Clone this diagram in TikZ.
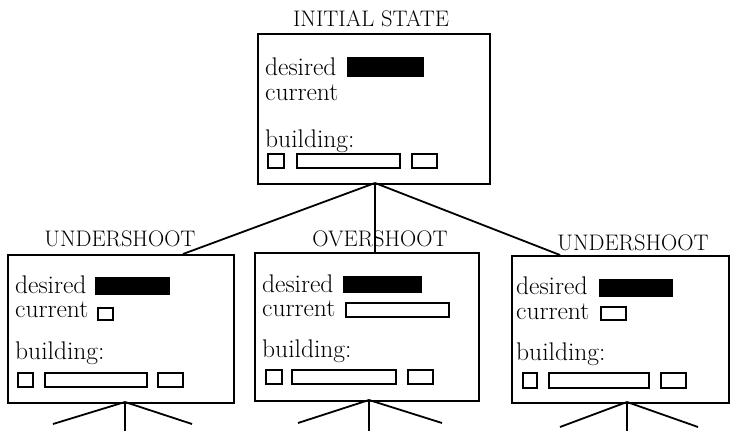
\documentclass[tikz,border=0pt]{standalone}
\begin{document}
\begin{tikzpicture}[x=1pt,y=-1pt,
  panel/.style={draw, line width=1.8pt, inner sep=0pt, anchor=north west},
  lbl/.style={font=\fontsize{22.5}{22.5}\selectfont, inner sep=0pt, anchor=base},
  txt/.style={font=\fontsize{25.5}{25.5}\selectfont, inner sep=0pt, anchor=base west},
  bar/.style={fill=black},
  slot/.style={draw, line width=1.4pt},
  link/.style={line width=1.8pt}]
\useasboundingbox (0,0) rectangle (730,431);

% ---- initial state ----
\node[lbl] (tlab) at (371,27) {INITIAL STATE};
\node[panel, minimum width=232pt, minimum height=150pt] (top) at (257,33) {};
\node[txt] (tdes) at (265,75) {desired};
\fill[bar] (347,57) rectangle (424,77);
\node[txt] (tcur) at (265,100) {current};
\node[txt] (tbld) at (265,147) {building:};
\draw[slot] (268,154) rectangle (284,168);
\draw[slot] (297,154) rectangle (400,168);
\draw[slot] (412,154) rectangle (437,168);

% ---- left child: undershoot ----
\node[lbl] (llab) at (120,246) {UNDERSHOOT};
\node[panel, minimum width=226pt, minimum height=148pt] (left) at (7,254) {};
\node[txt] (ldes) at (15,293) {desired};
\fill[bar] (95,277) rectangle (170,295);
\node[txt] (lcur) at (15,317) {current};
\draw[slot] (98,308) rectangle (113,320);
\node[txt] (lbld) at (15,359) {building:};
\draw[slot] (18,373) rectangle (33,387);
\draw[slot] (45,373) rectangle (147,387);
\draw[slot] (158,373) rectangle (183,387);

% ---- middle child: overshoot ----
\node[lbl] (mlab) at (380,246) {OVERSHOOT};
\node[panel, minimum width=224pt, minimum height=148pt] (mid) at (254,252) {};
\node[txt] (mdes) at (262,292) {desired};
\fill[bar] (343,276) rectangle (422,293);
\node[txt] (mcur) at (262,316) {current};
\draw[slot] (346,303) rectangle (449,317);
\node[txt] (mbld) at (262,357) {building:};
\draw[slot] (266,370) rectangle (282,384);
\draw[slot] (292,370) rectangle (396,384);
\draw[slot] (408,370) rectangle (433,384);

% ---- right child: undershoot ----
\node[lbl] (rlab) at (633,250) {UNDERSHOOT};
\node[panel, minimum width=217pt, minimum height=147pt] (right) at (511,255) {};
\node[txt] (rdes) at (516,294) {desired};
\fill[bar] (599,279) rectangle (673,297);
\node[txt] (rcur) at (516,319) {current};
\draw[slot] (601,307) rectangle (626,320);
\node[txt] (rbld) at (516,360) {building:};
\draw[slot] (523,373) rectangle (537,388);
\draw[slot] (549,373) rectangle (649,388);
\draw[slot] (661,373) rectangle (686,388);

% ---- tree links ----
\coordinate (troot) at (375,183);
\coordinate (lin) at (183,254);
\coordinate (min) at (375,252);
\coordinate (rin) at (560,255);
\draw[link] (troot) -- (lin);
\draw[link] (troot) -- (min);
\draw[link] (troot) -- (rin);

% branches leaving each child
\coordinate (lroot) at (125,402);
\coordinate (lb1) at (53,424);
\coordinate (lb2) at (125,431);
\coordinate (lb3) at (192,424);
\draw[link] (lroot) -- (lb1);
\draw[link] (lroot) -- (lb2);
\draw[link] (lroot) -- (lb3);

\coordinate (mroot) at (369,400);
\coordinate (mb1) at (298,423);
\coordinate (mb2) at (369,431);
\coordinate (mb3) at (442,423);
\draw[link] (mroot) -- (mb1);
\draw[link] (mroot) -- (mb2);
\draw[link] (mroot) -- (mb3);

\coordinate (rroot) at (627,402);
\coordinate (rb1) at (560,427);
\coordinate (rb2) at (627,431);
\coordinate (rb3) at (698,427);
\draw[link] (rroot) -- (rb1);
\draw[link] (rroot) -- (rb2);
\draw[link] (rroot) -- (rb3);
\end{tikzpicture}
\end{document}
